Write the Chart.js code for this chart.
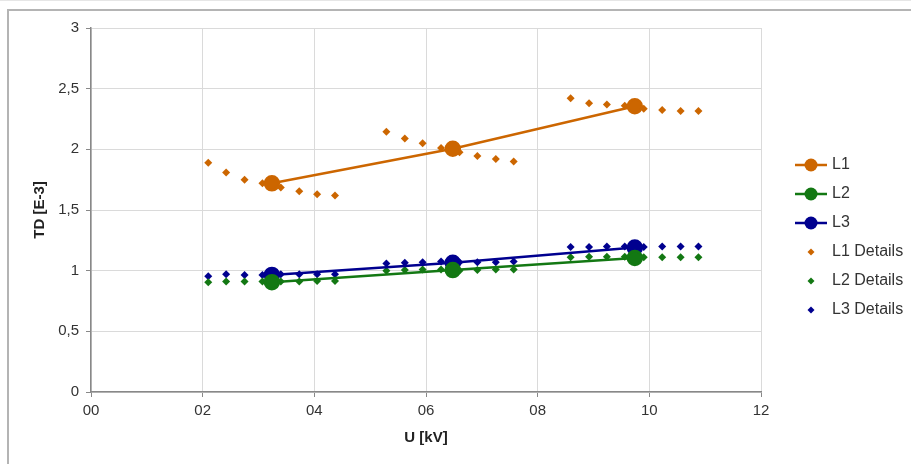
<!DOCTYPE html>
<html lang="en">
<head>
  <meta charset="UTF-8" />
  <title>TD vs U</title>
  <style>
    html, body { margin: 0; padding: 0; background: #fff; }
    body { width: 911px; height: 464px; overflow: hidden; position: relative; }
    .topline { position: absolute; left: 0; top: 0; width: 911px; height: 1px; background: #e6e6e6; }
    .frame { position: absolute; left: 7px; top: 9px; width: 920px; height: 470px; border-left: 2px solid #b4b4b4; border-top: 2px solid #b4b4b4; }
    .wrap { position: absolute; left: 0; top: 0; width: 911px; height: 464px; }
  </style>
</head>
<body>
  <div class="topline"></div>
  <div class="frame"></div>
  <div class="wrap"><canvas id="chart" width="911" height="464"></canvas></div>

  <script src="https://cdn.jsdelivr.net/npm/chart.js"></script>
  <script>
    // main measurement points (U in kV, TD in E-3)
    const mainU = [3.24, 6.48, 9.74];
    const l1 = [1.72, 2.005, 2.355];
    const l2 = [0.905, 1.005, 1.105];
    const l3 = [0.965, 1.065, 1.19];

    // detail points
    const detailU = [2.10, 2.42, 2.75, 3.07, 3.40, 3.73, 4.05, 4.37,
                     5.29, 5.62, 5.94, 6.27, 6.60, 6.92, 7.25, 7.57,
                     8.59, 8.92, 9.24, 9.56, 9.90, 10.23, 10.56, 10.88];
    const l1Details = [1.89, 1.81, 1.75, 1.72, 1.685, 1.655, 1.63, 1.62,
                       2.145, 2.09, 2.05, 2.01, 1.975, 1.945, 1.92, 1.90,
                       2.42, 2.38, 2.37, 2.36, 2.335, 2.325, 2.315, 2.315];
    const l2Details = [0.905, 0.91, 0.91, 0.91, 0.91, 0.91, 0.915, 0.915,
                       1.0, 1.005, 1.01, 1.01, 1.0, 1.005, 1.01, 1.01,
                       1.11, 1.115, 1.115, 1.115, 1.11, 1.11, 1.11, 1.11];
    const l3Details = [0.955, 0.97, 0.965, 0.965, 0.97, 0.97, 0.97, 0.97,
                       1.06, 1.065, 1.07, 1.075, 1.07, 1.07, 1.07, 1.075,
                       1.195, 1.195, 1.2, 1.2, 1.195, 1.2, 1.2, 1.2];

    const xTicks = [0, 2, 4, 6, 8, 10, 12];
    const yTicks = [0, 0.5, 1, 1.5, 2, 2.5, 3];

    const colors = ['#cc6600', '#137813', '#00008f'];
    const font = 'Liberation Sans, Arial, sans-serif';

    const pts = (xs, ys) => xs.map((x, i) => ({ x, y: ys[i] }));

    // legend icons: line with circle, or small diamond
    function legendIcon(color, withLine) {
      const c = document.createElement('canvas');
      c.width = 60; c.height = 16;
      const g = c.getContext('2d');
      g.fillStyle = color;
      g.strokeStyle = color;
      if (withLine) {
        g.lineWidth = 2.5;
        g.beginPath(); g.moveTo(26, 8); g.lineTo(58, 8); g.stroke();
        g.beginPath(); g.arc(42, 8, 6.5, 0, Math.PI * 2); g.fill();
      } else {
        g.beginPath();
        g.moveTo(42, 4.5); g.lineTo(45.5, 8); g.lineTo(42, 11.5); g.lineTo(38.5, 8);
        g.closePath(); g.fill();
      }
      return c;
    }

    function mainSet(label, ys, color) {
      return {
        type: 'line', label, data: pts(mainU, ys),
        borderColor: color, backgroundColor: color, borderWidth: 2.5,
        pointRadius: 7, pointHoverRadius: 7, pointBackgroundColor: color,
        tension: 0, icon: legendIcon(color, true)
      };
    }

    function detailSet(label, ys, color) {
      return {
        type: 'scatter', label, data: pts(detailU, ys),
        borderColor: color, backgroundColor: color, borderWidth: 0,
        pointStyle: 'rectRot', pointRadius: 4, pointHoverRadius: 4,
        showLine: false, icon: legendIcon(color, false)
      };
    }

    const legendWidth = {
      id: 'legendWidth',
      beforeInit(chart) {
        const fit = chart.legend.fit;
        chart.legend.fit = function () { fit.call(this); this.width = 150; };
      }
    };

    new Chart(document.getElementById('chart'), {
      data: {
        datasets: [
          mainSet('L1', l1, colors[0]),
          mainSet('L2', l2, colors[1]),
          mainSet('L3', l3, colors[2]),
          detailSet('L1 Details', l1Details, colors[0]),
          detailSet('L2 Details', l2Details, colors[1]),
          detailSet('L3 Details', l3Details, colors[2])
        ]
      },
      options: {
        responsive: false,
        animation: false,
        layout: { padding: { top: 28, bottom: 17, left: 0, right: 0 } },
        scales: {
          x: {
            type: 'linear', min: 0, max: 12,
            afterFit(s) { s.height = 55; },
            afterBuildTicks(s) { s.ticks = xTicks.map(v => ({ value: v })); },
            grid: { color: '#dadada', tickColor: '#888', tickLength: 5 },
            border: { color: '#888', width: 1.5 },
            ticks: {
              color: '#333', padding: 5, maxRotation: 0,
              font: { family: font, size: 15 },
              callback: v => String(v).padStart(2, '0')
            },
            title: {
              display: true, text: 'U [kV]', color: '#222',
              font: { family: font, size: 15, weight: 'bold' },
              padding: { top: 2, bottom: 0 }
            }
          },
          y: {
            min: 0, max: 3,
            afterFit(s) { s.width = 91; },
            afterBuildTicks(s) { s.ticks = yTicks.map(v => ({ value: v })); },
            grid: { color: '#dadada', tickColor: '#888', tickLength: 5 },
            border: { color: '#888', width: 1.5 },
            ticks: {
              color: '#333', padding: 7,
              font: { family: font, size: 15 },
              callback: v => String(v).replace('.', ',')
            },
            title: {
              display: true, text: 'TD [E-3]', color: '#222',
              font: { family: font, size: 15, weight: 'bold' },
              padding: { top: 31, bottom: 0 }
            }
          }
        },
        plugins: {
          tooltip: { enabled: false },
          legend: {
            position: 'right',
            labels: {
              usePointStyle: true,
              pointStyleWidth: 50,
              padding: 13,
              color: '#333',
              font: { family: font, size: 16 },
              generateLabels(chart) {
                return chart.data.datasets.map((ds, i) => ({
                  text: ds.label,
                  datasetIndex: i,
                  pointStyle: ds.icon,
                  fillStyle: ds.borderColor,
                  strokeStyle: ds.borderColor,
                  lineWidth: 0,
                  fontColor: '#333',
                  hidden: false
                }));
              }
            }
          }
        }
      },
      plugins: [legendWidth]
    });
  </script>
</body>
</html>
